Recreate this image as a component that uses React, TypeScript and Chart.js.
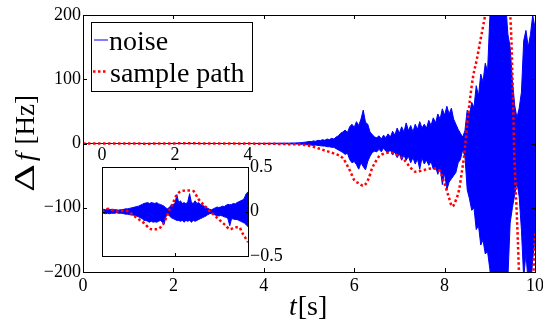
import React, { useEffect, useRef } from "react";
import { Chart, registerables } from "chart.js";

Chart.register(...registerables);

const FONT = '"Liberation Serif", "Times New Roman", serif';

// Noise envelope sampled every 0.05 s from t = 0 to t = 10 (Hz)
const NOISE_T0 = 0;
const NOISE_DT = 0.05;
const noiseUpper = [
  0.02, 0.025, 0.02, 0.03, 0.025, 0.02, 0.025, 0.02, 0.02, 0.015,
  0.02, 0.02, 0.025, 0.03, 0.03, 0.035, 0.04, 0.045, 0.05, 0.055,
  0.06, 0.07, 0.08, 0.09, 0.095, 0.1, 0.09, 0.1, 0.095, 0.09,
  0.1, 0.085, 0.08, 0.07, 0.06, 0.04, 0.03, 0.05, 0.07, 0.08,
  0.09, 0.19, 0.1, 0.12, 0.09, 0.1, 0.085, 0.11, 0.2, 0.1,
  0.09, 0.12, 0.09, 0.1, 0.08, 0.07, 0.06, 0.05, 0.035, 0.025,
  0.02, 0.03, 0.04, 0.05, 0.045, 0.05, 0.06, 0.055, 0.07, 0.08,
  0.075, 0.08, 0.09, 0.085, 0.1, 0.11, 0.12, 0.13, 0.15, 0.2,
  0.22,
  0.25, 0.3, 0.3, 0.35, 0.4, 0.4, 0.45, 0.5, 0.5, 0.6,
  0.6, 0.7, 0.8, 0.9, 1, 1.2, 1.5, 2, 2.5, 3,
  3, 4, 3.5, 5, 4.5, 6, 5, 7, 6, 8,
  7, 10, 12, 16, 18, 21, 17, 26, 30, 25,
  34, 28, 38, 52, 33, 30, 18, 14, 10, 9,
  12, 7, 13, 9, 15, 10, 19, 13, 24, 16,
  26, 18, 32, 20, 28, 18, 30, 22, 34, 24,
  30, 24, 36, 28, 40, 32, 46, 38, 54, 44,
  58, 46, 55, 38, 30, 22, 16, 10, 20, 52,
  45, 64, 56, 90, 74, 108, 96, 125, 112, 195,
  240, 230, 250, 240, 230, 240, 220, 170, 150, 98,
  60, 40, 55, 80, 160, 176, 150, 170, 200, 180,
];
const noiseLower = [
  -0.02, -0.02, -0.025, -0.02, -0.025, -0.02, -0.02, -0.02, -0.015, -0.02,
  -0.02, -0.02, -0.025, -0.03, -0.03, -0.035, -0.04, -0.04, -0.045, -0.05,
  -0.06, -0.07, -0.08, -0.1, -0.1, -0.11, -0.12, -0.11, -0.12, -0.115,
  -0.12, -0.11, -0.1, -0.12, -0.14, -0.06, -0.03, -0.05, -0.07, -0.08,
  -0.09, -0.1, -0.1, -0.11, -0.1, -0.12, -0.1, -0.11, -0.1, -0.12,
  -0.1, -0.11, -0.1, -0.09, -0.08, -0.07, -0.06, -0.05, -0.035, -0.025,
  -0.02, -0.03, -0.04, -0.045, -0.05, -0.045, -0.05, -0.06, -0.065, -0.08,
  -0.16, -0.08, -0.085, -0.09, -0.09, -0.1, -0.11, -0.12, -0.13, -0.15,
  -0.17,
  -0.2, -0.25, -0.3, -0.3, -0.35, -0.4, -0.4, -0.45, -0.5, -0.5,
  -0.6, -0.6, -0.7, -0.8, -0.9, -1, -1.2, -1.5, -2, -2,
  -2.5, -3, -2.5, -3, -3.5, -4, -4, -5, -5, -6,
  -6, -8, -10, -12, -14, -17, -15, -25, -30, -28,
  -33, -40, -30, -36, -41, -28, -20, -14, -12, -13,
  -9, -13, -7, -12, -14, -10, -18, -13, -22, -16,
  -26, -18, -26, -20, -30, -22, -32, -24, -40, -22,
  -32, -26, -34, -28, -40, -36, -48, -36, -64, -46,
  -72, -60, -55, -50, -45, -30, -25, -10, -20, -72,
  -86, -104, -100, -134, -128, -158, -150, -172, -168, -195,
  -230, -240, -250, -240, -230, -250, -240, -210, -124, -100,
  -80, -60, -83, -135, -210, -170, -220, -230, -180, -150,
];

// Sample path (Hz) at given times (s)
const pathTimes = [
  0, 0.17, 0.4, 0.63, 0.72, 0.9, 1.05, 1.18, 1.31, 1.45,
  1.54, 1.68, 1.78, 1.86, 1.95, 2.04, 2.18, 2.35, 2.5, 2.64,
  2.8, 2.96, 3.1, 3.23, 3.37, 3.51, 3.65, 3.76, 3.83, 3.92,
  4.0, 4.2, 4.4, 4.6, 4.87, 5.09, 5.31, 5.53, 5.75, 5.86,
  5.93, 6.0, 6.11, 6.2, 6.31, 6.4, 6.46, 6.55, 6.65, 6.8,
  6.95, 7.1, 7.25, 7.36, 7.5, 7.7, 7.88, 7.95, 8.02, 8.1,
  8.17, 8.25, 8.32, 8.38, 8.43, 8.46, 8.5, 8.56, 8.63, 8.71,
  8.78, 8.85, 8.92, 9.0, 9.2, 9.4, 9.45, 9.48, 9.5, 9.52,
  9.535, 9.56, 9.59, 9.62, 9.645, 9.7, 9.8, 9.9, 9.95, 10.0,
];
const pathValues = [
  0, 0.03, 0, 0.01, 0, -0.056, -0.1, -0.14, -0.195, -0.2,
  -0.195, -0.14, -0.05, 0.03, 0.1, 0.18, 0.23, 0.235, 0.23, 0.14,
  0.07, 0, -0.05, -0.1, -0.15, -0.2, -0.177, -0.177, -0.23, -0.29,
  -0.345, -0.5, -0.8, -1.2, -2, -5, -10, -15, -23, -36,
  -46, -57, -62, -66, -56, -38, -30, -20, -16, -14,
  -18, -25, -38, -44, -42, -39, -42, -52, -67, -85,
  -98, -88, -72, -45, -20, 0, 30, 68, 104, 130,
  156, 182, 210, 260, 320, 260, 205, 156, 104, 52,
  0, -50, -98, -150, -200, -280, -330, -300, -230, -140,
];

const mainXTicks = [0, 2, 4, 6, 8, 10];
const mainYTicks = [-200, -100, 0, 100, 200];
const insetXTicks = [0, 2, 4];
const insetYTicks = [-0.5, 0, 0.5];

const seriesLabels = ["noise", "sample path"];
const seriesColors = ["#0000ff", "#ff0000"];

function envelopePoints(values: number[]) {
  return values.map((v, i) => ({ x: NOISE_T0 + i * NOISE_DT, y: v }));
}

function pathPoints() {
  return pathTimes.map((t, i) => ({ x: t, y: pathValues[i] }));
}

function datasets() {
  return [
    {
      label: seriesLabels[1],
      data: pathPoints(),
      borderColor: seriesColors[1],
      borderWidth: 2.5,
      borderDash: [2.5, 2.5],
      borderCapStyle: "butt",
      pointRadius: 0,
      cubicInterpolationMode: "monotone",
      fill: false,
    },
    {
      label: seriesLabels[0],
      data: envelopePoints(noiseUpper),
      borderColor: seriesColors[0],
      backgroundColor: seriesColors[0],
      borderWidth: 1,
      pointRadius: 0,
      tension: 0,
      fill: "+1",
    },
    {
      label: seriesLabels[0] + " (lower)",
      data: envelopePoints(noiseLower),
      borderColor: seriesColors[0],
      borderWidth: 1,
      pointRadius: 0,
      tension: 0,
      fill: false,
    },
  ];
}

const fmt = (v: any) => String(v).replace("-", "\u2212");

function frameAndTicks(chart: any, xt: number[], yt: number[], len: number) {
  const { ctx, chartArea: a, scales } = chart;
  ctx.save();
  ctx.strokeStyle = "#000";
  ctx.lineWidth = 1;
  ctx.setLineDash([]);
  ctx.beginPath();
  for (const v of xt) {
    const x = Math.round(scales.x.getPixelForValue(v)) + 0.5;
    ctx.moveTo(x, a.bottom);
    ctx.lineTo(x, a.bottom - len);
    ctx.moveTo(x, a.top);
    ctx.lineTo(x, a.top + len);
  }
  for (const v of yt) {
    const y = Math.round(scales.y.getPixelForValue(v)) + 0.5;
    ctx.moveTo(a.left, y);
    ctx.lineTo(a.left + len, y);
    ctx.moveTo(a.right, y);
    ctx.lineTo(a.right - len, y);
  }
  ctx.stroke();
  ctx.strokeRect(
    Math.round(a.left) + 0.5,
    Math.round(a.top) + 0.5,
    Math.round(a.right - a.left),
    Math.round(a.bottom - a.top)
  );
  ctx.restore();
}

const mainDecor = {
  id: "mainDecor",
  afterDraw(chart: any) {
    frameAndTicks(chart, mainXTicks, mainYTicks, 4);
    const { ctx, chartArea: a } = chart;
    ctx.save();
    ctx.textBaseline = "alphabetic";
    ctx.textAlign = "left";

    // Legend
    const lx = a.left + 8;
    const ly = a.top + 7;
    ctx.fillStyle = "#fff";
    ctx.fillRect(lx, ly, 161, 69);
    ctx.strokeStyle = "#000";
    ctx.lineWidth = 1;
    ctx.strokeRect(lx + 0.5, ly + 0.5, 161, 69);

    const ds = chart.data.datasets;
    const noiseDs = ds.find((d: any) => d.label === seriesLabels[0]);
    const pathDs = ds.find((d: any) => d.label === seriesLabels[1]);

    ctx.beginPath();
    ctx.strokeStyle = noiseDs.borderColor;
    ctx.lineWidth = 1;
    ctx.moveTo(lx + 3, ly + 18);
    ctx.lineTo(lx + 17, ly + 18);
    ctx.stroke();

    ctx.beginPath();
    ctx.strokeStyle = pathDs.borderColor;
    ctx.lineWidth = 2.5;
    ctx.setLineDash([2.5, 2.5]);
    ctx.moveTo(lx + 2, ly + 49.5);
    ctx.lineTo(lx + 17, ly + 49.5);
    ctx.stroke();
    ctx.setLineDash([]);

    ctx.fillStyle = "#000";
    ctx.font = `28px ${FONT}`;
    ctx.fillText(noiseDs.label, lx + 18, ly + 28);
    ctx.fillText(pathDs.label, lx + 19, ly + 59.5);

    // X title: t[s]
    ctx.font = `italic 28px ${FONT}`;
    ctx.fillText("t", 289, 315);
    const tw = ctx.measureText("t").width;
    ctx.font = `28px ${FONT}`;
    ctx.fillText("[s]", 289 + tw + 1, 315);

    // Y title: Δf [Hz], rotated, reading bottom to top
    ctx.translate(34, 192);
    ctx.rotate(-Math.PI / 2);
    ctx.save();
    ctx.font = `30px ${FONT}`;
    const dw = ctx.measureText("\u0394").width;
    ctx.scale(28 / dw, 1);
    ctx.fillText("\u0394", 0, 0);
    ctx.restore();
    ctx.font = `italic 28px ${FONT}`;
    ctx.fillText("f", 31, 0);
    ctx.font = `27px ${FONT}`;
    const hw = ctx.measureText("[Hz]").width;
    ctx.fillText("[Hz]", 97 - hw, 0);
    ctx.restore();
  },
};

const insetDecor = {
  id: "insetDecor",
  beforeDraw(chart: any) {
    const { ctx, chartArea: a } = chart;
    ctx.save();
    ctx.fillStyle = "#fff";
    ctx.fillRect(a.left, a.top, a.right - a.left, a.bottom - a.top);
    ctx.restore();
  },
  afterDraw(chart: any) {
    frameAndTicks(chart, insetXTicks, insetYTicks, 3);
  },
};

const tickFont = { family: FONT, size: 18 };

function scaleBase(min: number, max: number, step: number, pos: string, pad: number) {
  return {
    type: "linear",
    position: pos,
    min,
    max,
    grid: { display: false, drawTicks: false },
    border: { display: false },
    ticks: {
      stepSize: step,
      font: tickFont,
      color: "#000",
      padding: pad,
      maxRotation: 0,
      autoSkip: false,
      callback: fmt,
    },
  };
}

function mainConfig(): any {
  return {
    type: "line",
    data: { datasets: datasets() },
    plugins: [mainDecor],
    options: {
      responsive: false,
      maintainAspectRatio: false,
      animation: false,
      parsing: false,
      layout: { padding: { left: 0, top: 15, right: 8, bottom: 0 } },
      plugins: { legend: { display: false }, tooltip: { enabled: false } },
      scales: {
        x: {
          ...scaleBase(0, 10, 2, "bottom", 3),
          afterFit: (s: any) => {
            s.height = 51;
            s.paddingLeft = 0;
            s.paddingRight = 0;
          },
        },
        y: {
          ...scaleBase(-200, 200, 100, "left", 2),
          afterFit: (s: any) => {
            s.width = 83;
            s.paddingTop = 0;
            s.paddingBottom = 0;
          },
        },
      },
    },
  };
}

function insetConfig(): any {
  return {
    type: "line",
    data: { datasets: datasets() },
    plugins: [insetDecor],
    options: {
      responsive: false,
      maintainAspectRatio: false,
      animation: false,
      parsing: false,
      layout: { padding: { left: 12, top: 0, right: 0, bottom: 9 } },
      plugins: { legend: { display: false }, tooltip: { enabled: false } },
      scales: {
        x: {
          ...scaleBase(0, 4, 2, "top", 1),
          afterFit: (s: any) => {
            s.height = 22;
            s.paddingLeft = 0;
            s.paddingRight = 0;
          },
        },
        y: {
          ...scaleBase(-0.5, 0.5, 0.5, "right", 2),
          afterFit: (s: any) => {
            s.width = 42;
            s.paddingTop = 0;
            s.paddingBottom = 0;
          },
        },
      },
    },
  };
}

export default function App() {
  const mainRef = useRef<HTMLCanvasElement>(null);
  const insetRef = useRef<HTMLCanvasElement>(null);

  useEffect(() => {
    const main = new Chart(mainRef.current as HTMLCanvasElement, mainConfig());
    const inset = new Chart(insetRef.current as HTMLCanvasElement, insetConfig());
    return () => {
      main.destroy();
      inset.destroy();
    };
  }, []);

  return (
    <div
      style={{
        position: "fixed",
        left: 0,
        top: 0,
        width: 543,
        height: 323,
        background: "#fff",
        overflow: "hidden",
      }}
    >
      <canvas
        ref={mainRef}
        width={543}
        height={323}
        style={{ position: "absolute", left: 0, top: 0, width: 543, height: 323 }}
      />
      <canvas
        ref={insetRef}
        width={200}
        height={120}
        style={{ position: "absolute", left: 90, top: 145, width: 200, height: 120 }}
      />
    </div>
  );
}
